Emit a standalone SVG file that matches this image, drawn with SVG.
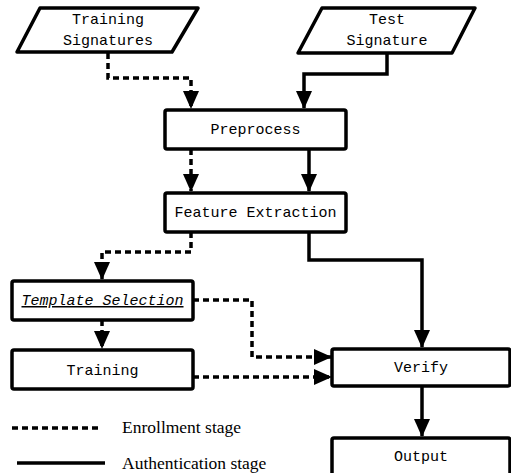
<svg xmlns="http://www.w3.org/2000/svg" width="511" height="473" viewBox="0 0 511 473">
<style>
.box{fill:#fff;stroke:#000;stroke-width:3.5;stroke-linejoin:round}
.t{font-family:"Liberation Mono","DejaVu Sans Mono",monospace;font-size:15px;fill:#000;text-anchor:middle}
.c{fill:none;stroke:#000;stroke-width:3.5}
.d{stroke-dasharray:6 4}
.lg{font-family:"Liberation Serif","Times New Roman",serif;font-size:17.5px;fill:#000}
</style>
<defs>
<marker id="ah" markerUnits="userSpaceOnUse" markerWidth="18" markerHeight="16" viewBox="0 0 18 16" refX="17" refY="8" orient="auto">
<path d="M0,0 L18,8 L0,16 Z" fill="#000"/>
</marker>
</defs>
<rect width="511" height="473" fill="#fff"/>
<g id="connectors">
<path class="c d" d="M108,53 V78 H191 V108" marker-end="url(#ah)"/>
<path class="c" d="M387,53 V74 H304 V108" marker-end="url(#ah)"/>
<path class="c d" d="M191,149 V191" marker-end="url(#ah)"/>
<path class="c" d="M309,149 V191" marker-end="url(#ah)"/>
<path class="c d" d="M191,232 V252 H102 V279" marker-end="url(#ah)"/>
<path class="c" d="M309,232 V260 H422 V347" marker-end="url(#ah)"/>
<path class="c d" d="M193,300 H252 V357 H331" marker-end="url(#ah)"/>
<path class="c d" d="M102,320 V348" marker-end="url(#ah)"/>
<path class="c d" d="M193,377 H331" marker-end="url(#ah)"/>
<path class="c" d="M422,386 V436" marker-end="url(#ah)"/>
</g>
<g id="training-signatures">
<path class="box" d="M40,8 H198 L172,52 H17 Z"/>
<text class="t" x="108" y="24">Training</text>
<text class="t" x="108" y="45">Signatures</text>
</g>
<g id="test-signature">
<path class="box" d="M322,8 H475 L452,53 H298 Z"/>
<text class="t" x="387" y="24">Test</text>
<text class="t" x="387" y="45">Signature</text>
</g>
<g id="preprocess">
<rect class="box" x="165" y="110" width="181" height="39" rx="2"/>
<text class="t" x="255.5" y="134">Preprocess</text>
</g>
<g id="feature-extraction">
<rect class="box" x="165" y="193" width="181" height="39" rx="2"/>
<text class="t" x="255.5" y="217">Feature Extraction</text>
</g>
<g id="template-selection">
<rect class="box" x="12" y="281" width="181" height="39" rx="2"/>
<text class="t" x="102.5" y="305" font-style="italic" text-decoration="underline">Template Selection</text>
</g>
<g id="training">
<rect class="box" x="12" y="350" width="181" height="39" rx="2"/>
<text class="t" x="102.5" y="375">Training</text>
</g>
<g id="verify">
<rect class="box" x="332" y="349" width="178" height="37" rx="2"/>
<text class="t" x="421" y="372">Verify</text>
</g>
<g id="output">
<rect class="box" x="332" y="438" width="178" height="40" rx="2"/>
<text class="t" x="421" y="461">Output</text>
</g>
<g id="legend">
<line class="c d" x1="12" y1="428" x2="98" y2="428"/>
<line class="c" x1="17" y1="463" x2="105" y2="463"/>
<text class="lg" x="122" y="433">Enrollment stage</text>
<text class="lg" x="122" y="469">Authentication stage</text>
</g>
</svg>
